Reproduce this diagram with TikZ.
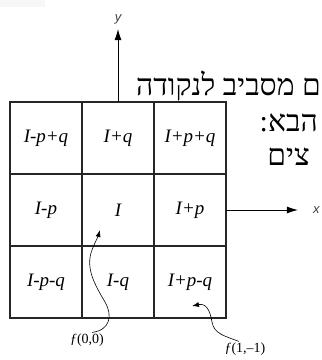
\documentclass[tikz,border=0pt]{standalone}
\usepackage{fontspec}
\setmainfont{Liberation Serif}
\setsansfont{Liberation Sans}
\newfontfamily\hebfont[Script=Hebrew]{Liberation Serif}
\TeXXeTstate=1
\usetikzlibrary{arrows.meta,positioning}
\definecolor{gridline}{gray}{0.15}
\definecolor{faintgray}{gray}{0.97}

\begin{document}
\begin{tikzpicture}[x=1pt, y=-1pt,
  node distance=0pt,
  cell/.style={draw=gridline, line width=1.3pt, minimum width=72pt, minimum height=72pt, outer sep=0pt, inner sep=0pt, font=\fontsize{19}{19}\selectfont\itshape},
  axislabel/.style={font=\fontsize{13}{13}\sffamily\itshape, text=darkgray, inner sep=0pt},
  fval/.style={font=\fontsize{14}{14}\selectfont, inner sep=1pt},
  hebline/.style={font=\fontsize{30}{30}\hebfont, anchor=base east, inner sep=0pt},
  axis/.style={-{Latex[length=11pt,width=7pt]}, line width=0.9pt},
  pointer/.style={-{Latex[length=7pt,width=5pt]}, line width=0.6pt},
]
  \clip (0,0) rectangle (322,360);
  \fill[faintgray] (0,0) rectangle (45,7);

  \node[cell] (tl) at (46,138) {I-p+q};
  \node[cell, right=of tl] (tc) {I+q};
  \node[cell, right=of tc] (tr) {I+p+q};
  \node[cell, below=of tl] (ml) {I-p};
  \node[cell, right=of ml] (mc) {I};
  \node[cell, right=of mc] (mr) {I+p};
  \node[cell, below=of ml] (bl) {I-p-q};
  \node[cell, right=of bl] (bc) {I-q};
  \node[cell, right=of bc] (br) {I+p-q};

  \coordinate (ytip) at (118,29);
  \coordinate (xtip) at (298,210);
  \node[axislabel, above=5pt of ytip] (ylab) {y};
  \node[axislabel, right=15pt of xtip] (xlab) {x};
  \draw[axis] (tc.north) -- (ytip);
  \draw[axis] (mr.east) -- (xtip);

  \node[hebline] (heb1) at (321,95) {\beginR ם מסביב לנקודה\endR};
  \node[hebline] (heb2) at (318,131) {\beginR הבא:\endR};
  \node[hebline] (heb3) at (310,165) {\beginR צים\endR};

  \node[fval] (f00) at (87,340) {{\itshape ƒ}(0,0)};
  \node[fval] (f1m1) at (245,349) {{\itshape ƒ}(1,–1)};
  \coordinate (iarrow) at (100,230);
  \coordinate (brarrow) at (192,306);
  \draw[pointer] ([xshift=5pt]f00.north) .. controls (110,330) and (113,316) .. (105,302)
    .. controls (95,285) and (85,268) .. (92,250) .. controls (95,242) and (98,237) .. (iarrow);
  \draw[pointer] ([xshift=-6pt]f1m1.north) .. controls (225,336) and (214,334) .. (212,322)
    .. controls (210,310) and (206,303) .. (brarrow);
\end{tikzpicture}
\end{document}
